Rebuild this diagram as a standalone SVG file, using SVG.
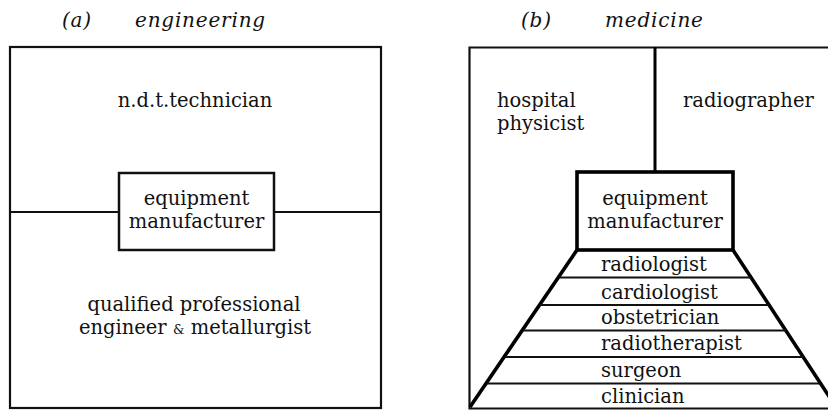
<svg xmlns="http://www.w3.org/2000/svg" width="828" height="410" viewBox="0 0 828 410">
<style>
.t{font-family:"DejaVu Serif","Liberation Serif",serif;font-size:19.5px;fill:#111;}
.c{text-anchor:middle;}
.ti{font-family:"DejaVu Serif","Liberation Serif",serif;font-style:italic;font-size:20px;fill:#111;letter-spacing:0.8px;}
.frame{fill:none;stroke:#111;stroke-width:2.2;}
.thick{fill:none;stroke:#000;stroke-width:3.6;stroke-linejoin:miter;}
.rule{fill:none;stroke:#111;stroke-width:2;}
</style>
<rect width="828" height="410" fill="#fff"/>

<g id="title-a">
<text class="ti" x="62" y="27">(a)</text>
<text class="ti" x="135" y="27">engineering</text>
</g>
<g id="title-b">
<text class="ti" x="521" y="27">(b)</text>
<text class="ti" x="605" y="27">medicine</text>
</g>

<g id="panel-a">
<rect class="frame" x="10" y="47" width="371" height="361"/>
<g id="ndt-technician"><text class="t c" x="195" y="107">n.d.t.technician</text></g>
<g id="equipment-manufacturer-a">
<rect x="119" y="173" width="155" height="77" fill="#fff" stroke="#111" stroke-width="2.5"/>
<text class="t c" x="196.5" y="205">equipment</text>
<text class="t c" x="196.5" y="228">manufacturer</text>
</g>
<g id="engineer-metallurgist">
<text class="t c" x="194" y="311" font-size="19">qualified professional</text>
<text class="t c" x="195" y="334" font-size="19">engineer <tspan font-size="13">&amp;</tspan> metallurgist</text>
</g>
</g>

<g id="panel-b">
<path class="frame" d="M828,47.5 H469.5 V408.5 H828"/>
<g id="hospital-physicist">
<text class="t" x="497" y="107">hospital</text>
<text class="t" x="497" y="130">physicist</text>
</g>
<g id="radiographer"><text class="t" x="683" y="107">radiographer</text></g>
<g id="equipment-manufacturer-b">
<rect class="thick" x="577" y="172" width="156" height="78"/>
<text class="t c" x="655" y="205">equipment</text>
<text class="t c" x="655" y="228">manufacturer</text>
</g>
<g id="clinical-pyramid">
<path class="thick" d="M577,250 L470,407"/>
<path class="thick" d="M733,250 L840,413"/>
<path class="rule" d="M558.5,277.5 H751 M540,305 H769 M523,330.5 H786 M505,357 H803 M487,383.5 H820"/>
<text class="t" x="601" y="271">radiologist</text>
<text class="t" x="601" y="298.5">cardiologist</text>
<text class="t" x="601" y="323.5">obstetrician</text>
<text class="t" x="601" y="350">radiotherapist</text>
<text class="t" x="601" y="376.5">surgeon</text>
<text class="t" x="601" y="403">clinician</text>
</g>
</g>

<g id="connectors">
<line class="frame" x1="10" y1="212" x2="119" y2="212"/>
<line class="frame" x1="274" y1="212" x2="381" y2="212"/>
<line x1="655" y1="47" x2="655" y2="172" stroke="#000" stroke-width="3"/>
</g>
</svg>
